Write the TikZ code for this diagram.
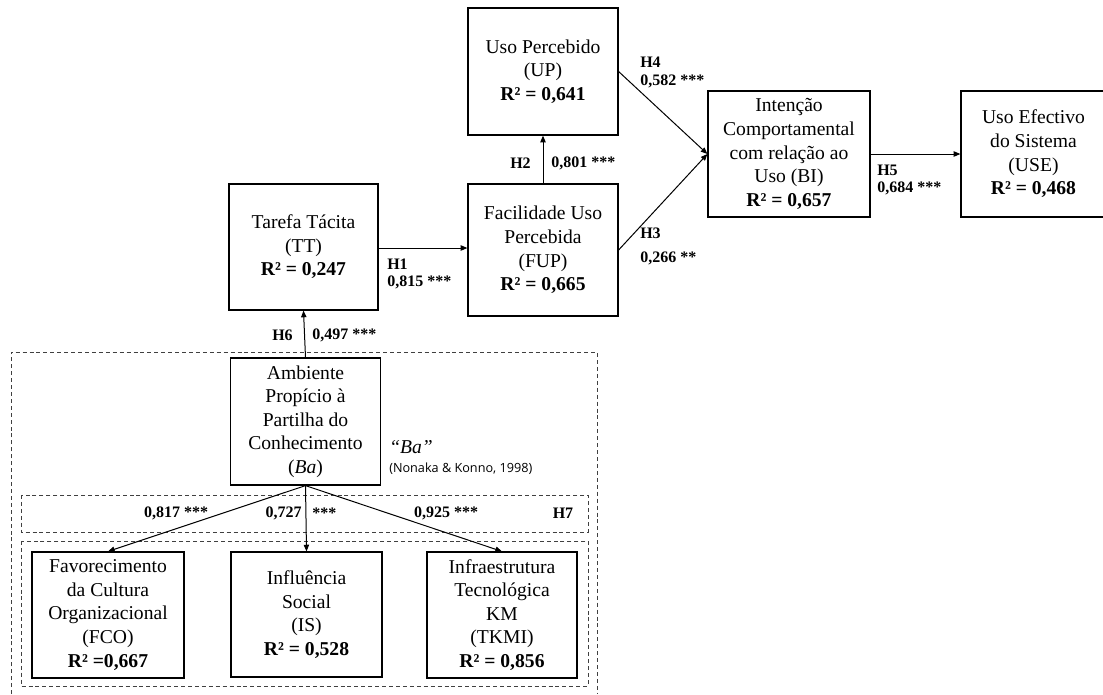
\documentclass[tikz,border=0pt]{standalone}
\usepackage{fontspec}
\setmainfont{Liberation Serif}
\newfontfamily\notefont{Open Sans}
\usetikzlibrary{arrows.meta}
\newcommand\boxfont{\fontsize{14.7}{17.7}\selectfont}
\newcommand\coeffont{\fontsize{12}{14}\selectfont\bfseries}
\tikzset{
  cbox/.style 2 args={draw, line width=0.9pt, align=center, inner sep=0pt,
    font=\boxfont, minimum width={#1*0.75pt}, minimum height={#2*0.75pt}},
  link/.style={line width=0.75pt, -{Triangle[length=5pt,width=4pt]}},
  frame/.style={draw=black!75, line width=0.7pt, dash pattern=on 3pt off 2.2pt},
  coef/.style={font=\coeffont, inner sep=0pt},
}
\begin{document}
\begin{tikzpicture}[x=0.75pt, y=-0.75pt]
\useasboundingbox (0,0) rectangle (1103,694);
\fill[white] (0,0) rectangle (1103,694);

% dashed groupings of the Ba construct
\draw[frame] (11,694) -- (11,352) -- (597,352) -- (597,694);
\draw[frame] (21,495) rectangle (588,532);
\draw[frame] (21,541) rectangle (588,686);

% constructs
\node[cbox={150}{127}] (UP) at (543,71.5) {Uso Percebido\\(UP)\\\textbf{R² = 0,641}};
\node[cbox={150}{132}] (FUP) at (543,250) {Facilidade Uso\\Percebida\\(FUP)\\\textbf{R² = 0,665}};
\node[cbox={149}{126}] (TT) at (303.5,247) {Tarefa Tácita\\(TT)\\\textbf{R² = 0,247}};
\node[cbox={162}{126}] (BI) at (789,154) {Intenção\\Comportamental\\com relação ao\\Uso (BI)\\\textbf{R² = 0,657}};
\node[cbox={145}{126}] (USE) at (1033.5,154) {Uso Efectivo\\do Sistema\\(USE)\\\textbf{R² = 0,468}};
\node[cbox={150}{127}] (BA) at (305.5,421.5) {Ambiente\\Propício à\\Partilha do\\Conhecimento\\(\textit{Ba})};
\node[cbox={152}{126}] (FCO) at (108,615) {Favorecimento\\da Cultura\\Organizacional\\(FCO)\\\textbf{R² =0,667}};
\node[cbox={151}{125}] (IS) at (306.5,614.5) {Influência\\Social\\(IS)\\\textbf{R² = 0,528}};
\node[cbox={150}{126}] (TKMI) at (502,615) {Infraestrutura\\Tecnológica\\KM\\(TKMI)\\\textbf{R² = 0,856}};

% paths
\draw[link] (TT.east |- 0,248) -- (FUP.west |- 0,248);
\draw[link] (FUP.north) -- (UP.south);
\draw[link] (UP.east) -- (BI.west);
\draw[link] (FUP.east) -- (BI.west);
\draw[link] (BI.east) -- (USE.west);
\draw[link] (BA.north) -- (TT.south);
\draw[link] (BA.south) -- (FCO.north);
\draw[link] (BA.south) -- (IS.north);
\draw[link] (BA.south) -- (TKMI.north);

% path coefficients
\node[coef, anchor=west] (h4) at (640,62) {H4};
\node[coef, anchor=west] (c4) at (640,81) {0,582 ***};
\node[coef, anchor=west] (h3) at (640,233) {H3};
\node[coef, anchor=west] (c3) at (640,258) {0,266 **};
\node[coef, anchor=west] (h1) at (387,264) {H1};
\node[coef, anchor=west] (c1) at (387,282) {0,815 ***};
\node[coef, anchor=west] (h5) at (877,170) {H5};
\node[coef, anchor=west] (c5) at (877,188) {0,684 ***};
\node[coef, anchor=east] (h2) at (531,163) {H2};
\node[coef, anchor=west] (c2) at (551,163) {0,801 ***};
\node[coef, anchor=east] (h6) at (293,335) {H6};
\node[coef, anchor=west] (c6) at (312,335) {0,497 ***};
\node[coef] (cf) at (176,513) {0,817 ***};
\node[coef, anchor=east] (ci) at (302,513) {0,727};
\node[coef, anchor=west] (cis) at (312,513) {***};
\node[coef] (ct) at (446,513) {0,925 ***};
\node[coef] (h7) at (563,513) {H7};

% Ba annotation
\node[anchor=west, inner sep=0pt, font=\fontsize{14.7}{17}\selectfont\itshape] (bal) at (389,447) {“Ba”};
\node[anchor=west, inner sep=0pt, font=\notefont\fontsize{9.5}{11}\selectfont] (ref) at (389,469) {(Nonaka \& Konno, 1998)};
\end{tikzpicture}
\end{document}
